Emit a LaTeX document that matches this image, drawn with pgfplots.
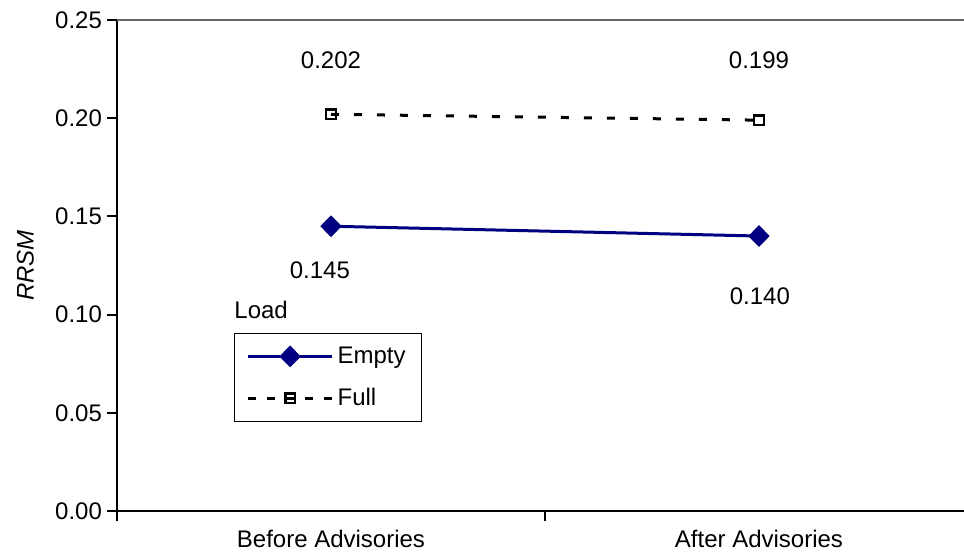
\documentclass[border=0pt]{standalone}
\usepackage{fontspec}
\setmainfont{Liberation Sans}
\usepackage{pgfplots}
\pgfplotsset{compat=1.18}
\definecolor{navyline}{RGB}{0,0,128}
\begin{document}
\begin{tikzpicture}[font=\fontsize{12}{14}\selectfont]
\begin{axis}[
  scale only axis,
  width=423.5pt, height=245.5pt,
  at={(0,0)}, anchor=south west,
  xmin=-0.5, xmax=1.479,
  ymin=0, ymax=0.25,
  axis x line*=bottom, axis y line*=left,
  axis line style={-, line width=1pt, black},
  xtick={-0.5,0.5,1.5}, xticklabels={},
  extra x ticks={0,1},
  extra x tick labels={Before Advisories, After Advisories},
  extra x tick style={major tick length=0pt, tick label style={yshift=-6pt}},
  ytick={0,0.05,0.10,0.15,0.20,0.25},
  yticklabel style={/pgf/number format/fixed, /pgf/number format/zerofill, /pgf/number format/precision=2, xshift=1pt},
  /pgf/number format/assume math mode=true,
  tick align=outside,
  major tick length=5pt,
  tick style={line width=1pt, black},
  ylabel={\itshape RRSM},
  ylabel style={at={(rel axis cs:0,0.5)}, yshift=38pt},
  clip=false,
  legend style={at={(axis cs:-0.2266,0.0906)}, anchor=north west, draw=black, line width=0.6pt,
    font=\fontsize{12}{14}\selectfont, inner xsep=6pt, inner ysep=4.5pt, row sep=7pt, cells={anchor=west}},
  legend cell align=left,
]
\draw[gray!80!black, line width=1pt] (rel axis cs:0,1) -- (rel axis cs:1,1);
\addplot[navyline, line width=1.5pt, mark=diamond*, mark size=4.4pt, mark options={solid, fill=navyline, xscale=1.3},
  legend image code/.code={\draw[mark repeat=2, mark phase=2] plot coordinates {(0pt,0pt) (21pt,0pt) (42pt,0pt)};}]
  coordinates {(0,0.145) (1,0.140)};
\addlegendentry{Empty}
\addplot[black, line width=1.5pt, dash pattern=on 4pt off 7.5pt, mark=square, mark size=2.4pt, mark options={solid, fill=white, line width=1.2pt},
  legend image code/.code={\draw[mark repeat=2, mark phase=2, dash pattern=on 4pt off 5.5pt, mark options={solid, fill=white, line width=1.2pt}] plot coordinates {(0pt,0pt) (21pt,0pt) (42pt,0pt)};}]
  coordinates {(0,0.202) (1,0.199)};
\addlegendentry{Full}
\node at (axis cs:0,0.2296) {0.202};
\node at (axis cs:1,0.2296) {0.199};
\node at (axis cs:-0.026,0.1227) {0.145};
\node at (axis cs:1.002,0.1095) {0.140};
\node[anchor=south west, inner sep=0pt] at (axis cs:-0.2266,0.0975) {Load};
\end{axis}
\pgfresetboundingbox
\path (-58.5pt,-20.5pt) rectangle (423.5pt,255.5pt);
\end{tikzpicture}
\end{document}
